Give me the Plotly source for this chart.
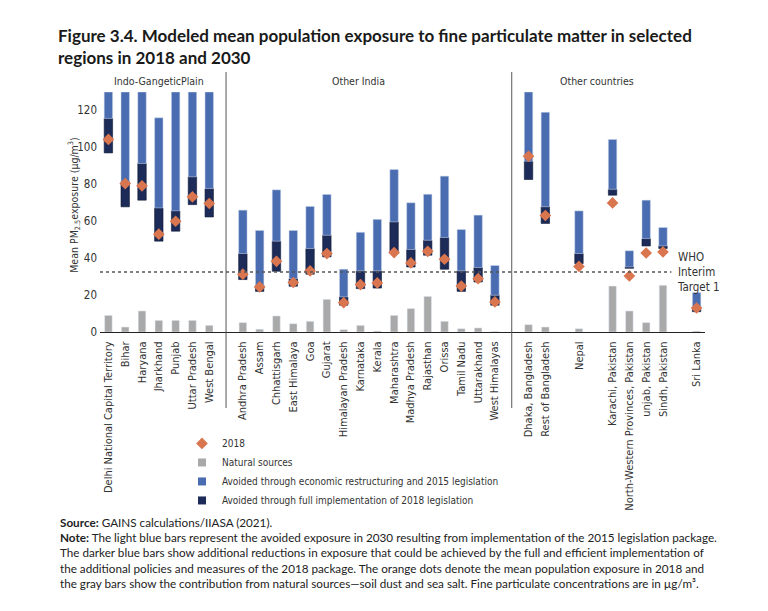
import plotly.graph_objects as go

# regions, in the order they appear on the axis
regions = ["Delhi National Capital Territory", "Bihar", "Haryana", "Jharkhand", "Punjab",
           "Uttar Pradesh", "West Bengal",
           "Andhra Pradesh", "Assam", "Chhattisgarh", "East Himalaya", "Goa", "Gujarat",
           "Himalayan Pradesh", "Karnataka", "Kerala", "Maharashtra", "Madhya Pradesh",
           "Rajasthan", "Orissa", "Tamil Nadu", "Uttarakhand", "West Himalayas",
           "Dhaka, Bangladesh", "Rest of Bangladesh", "Nepal", "Karachi, Pakistan",
           "North-Western Provinces, Pakistan", "unjab, Pakistan", "Sindh, Pakistan",
           "Sri Lanka"]

# 2030 exposure without further policy (top of light bar)
top_2030 = [130, 130, 130, 116, 130, 130, 130,
            66, 55, 77, 55, 68, 74.5, 34, 54, 61, 88, 70, 74.6, 84.4, 55.5, 63.3, 36,
            130, 119, 65.6, 104.3, 44, 71.4, 56.6, 21.3]
# 2030 exposure with 2015 legislation (top of dark bar)
after_2015 = [115.7, 81.5, 91.3, 67.2, 65.6, 84, 77.7,
              42.5, 25.3, 49.2, 28.9, 45.2, 52.4, 19, 33.1, 33.1, 59.6, 44.7, 49.7, 51.2, 33.1, 34.9, 19.9,
              92.5, 67.8, 42.5, 77.3, 35.2, 50.6, 46.6, 12.3]
# 2030 exposure with full 2018 package (bottom of dark bar)
after_2018 = [97, 67.8, 71.4, 49.2, 54.6, 69, 62.3,
              28.4, 22, 32.9, 24.8, 31.3, 40.7, 14.5, 23.5, 23.8, 43.5, 35.2, 41.6, 34, 22, 27.1, 14.5,
              82.6, 58.8, 37, 74.1, 34.5, 46.6, 45.2, 11]
exposure_2018 = [104.3, 80.4, 79.2, 53, 60, 73.2, 69.6,
                 31.3, 24.4, 38.3, 26.8, 33.1, 42.5, 15.9, 25.7, 26.6, 43, 37.4, 43.7, 39.4, 24.9, 28.9, 16.3,
                 95.2, 63.1, 35.5, 69.9, 30.4, 42.8, 43.4, 13]
natural = [9, 2.7, 11.4, 6.3, 6.3, 6.3, 3.6,
           5.1, 1.5, 8.7, 4.5, 5.8, 17.7, 1.3, 3.6, 0.5, 9, 12.7, 19.3, 5.8, 1.8, 2.2, 0.3,
           4, 2.7, 1.8, 24.9, 11.4, 5.1, 25.3, 0.5]

who_target = 32.5
groups = ["Indo-GangeticPlain", "Other India", "Other countries"]
legend_names = ["2018", "Natural sources",
                "Avoided through economic restructuring and 2015 legislation",
                "Avoided through full implementation of 2018 legislation"]

# empty slots inserted after these region indexes
gap_after = [6, 22, 24, 25, 29]
xpos = []
slot = 0
for i in range(len(regions)):
    xpos.append(slot)
    slot += 2 if i in gap_after else 1
n_slots = slot

LIGHT = "#4a6cb0"
DARK = "#1c2b57"
ORANGE = "#d9754f"
GRAY = "#a9a9a9"
NARROW = "Liberation Sans Narrow, Arial Narrow, DejaVu Sans Condensed, sans-serif"

fig = go.Figure()
fig.add_trace(go.Bar(x=xpos, y=natural, width=0.45, marker_color=GRAY, showlegend=False))
fig.add_trace(go.Bar(x=xpos, base=after_2018,
                     y=[a - b for a, b in zip(after_2015, after_2018)],
                     width=0.5, marker=dict(color=DARK, line=dict(color="#0e1836", width=0.6)),
                     showlegend=False))
fig.add_trace(go.Bar(x=xpos, base=after_2015,
                     y=[a - b for a, b in zip(top_2030, after_2015)],
                     width=0.5, marker=dict(color=LIGHT, line=dict(color="#c9d4ea", width=0.5)),
                     showlegend=False))
fig.add_trace(go.Scatter(x=xpos, y=exposure_2018, mode="markers",
                         marker=dict(symbol="diamond", size=9, color=ORANGE),
                         name=legend_names[0], legendrank=1))

# small square legend keys like the original
for name, col, rank in zip(legend_names[1:], [GRAY, LIGHT, DARK], [2, 3, 4]):
    fig.add_trace(go.Scatter(x=[None], y=[None], mode="markers", name=name, legendrank=rank,
                             marker=dict(symbol="square", size=8, color=col)))

# WHO interim target line
fig.add_shape(type="line", xref="x", yref="y", x0=-0.5, x1=33.5, y0=who_target, y1=who_target,
              line=dict(color="#555555", width=1.5, dash="3px,3px"))
fig.add_annotation(x=33.7, y=who_target, xref="x", yref="y", text="WHO<br>Interim<br>Target 1",
                   showarrow=False, xanchor="left", yanchor="middle", align="left",
                   font=dict(family=NARROW, size=11.5, color="#333333"))

# group separators and labels
seps = [xpos[i] + 1 for i in (6, 22)]
for s in seps:
    fig.add_shape(type="line", xref="x", yref="paper", x0=s, x1=s, y0=-0.317, y1=1.083,
                  line=dict(color="#555555", width=1))
group_x = [3, 14.9, 29.1]
for g, gx in zip(groups, group_x):
    fig.add_annotation(x=gx, y=1.044, xref="x", yref="paper", text=g, showarrow=False,
                       xanchor="center", yanchor="middle",
                       font=dict(family=NARROW, size=10.5, color="#333333"))

# y axis title
fig.add_annotation(x=-0.043, y=0.53, xref="paper", yref="paper", textangle=-90,
                   xanchor="center", yanchor="middle",
                   text="Mean PM<sub>2.5</sub>exposure (µg/m<sup>3</sup>)", showarrow=False,
                   font=dict(family=NARROW, size=10.5, color="#333333"))

note = ("<b>Source:</b> GAINS calculations/IIASA (2021).<br>"
        "<b>Note:</b> The light blue bars represent the avoided exposure in 2030 resulting from implementation of the 2015 legislation package.<br>"
        "The darker blue bars show additional reductions in exposure that could be achieved by the full and efficient implementation of<br>"
        "the additional policies and measures of the 2018 package. The orange dots denote the mean population exposure in 2018 and<br>"
        "the gray bars show the contribution from natural sources—soil dust and sea salt. Fine particulate concentrations are in µg/m³.")
fig.add_annotation(x=-0.0687, y=-0.755, xref="paper", yref="paper", text=note, showarrow=False,
                   xanchor="left", yanchor="top", align="left",
                   font=dict(family="Lato, sans-serif", size=11.7, color="#222222"))

# page body has an 8px margin, so the figure is 8px smaller and everything sits 8px up/left
fig.update_layout(
    width=760, height=603,
    margin=dict(l=92, r=63, t=84, b=279),
    paper_bgcolor="white", plot_bgcolor="white",
    barmode="overlay",
    title=dict(text="Figure 3.4. Modeled mean population exposure to fine particulate matter in selected<br>regions in 2018 and 2030",
               x=50 / 760, xanchor="left", xref="container", y=0.944, yanchor="top",
               font=dict(family="Lato, sans-serif", size=17, color="#1a1a1a", weight="bold")),
    xaxis=dict(range=[-0.5, n_slots - 0.5], tickvals=xpos, ticktext=regions, tickangle=-90,
               showline=True, linecolor="#222222", linewidth=1, showgrid=False, zeroline=False,
               ticks="", ticklabelstandoff=4,
               tickfont=dict(family=NARROW, size=11, color="#333333")),
    yaxis=dict(range=[0, 130], tickvals=list(range(0, 121, 20)), showgrid=False, zeroline=False,
               showline=False, ticks="", ticklabelstandoff=2,
               tickfont=dict(family=NARROW, size=11.5, color="#333333")),
    legend=dict(x=0.1355, y=-0.404, xanchor="left", yanchor="top", traceorder="normal",
                bgcolor="rgba(0,0,0,0)", tracegroupgap=0, itemwidth=30,
                font=dict(family=NARROW, size=10, color="#333333")),
    showlegend=True,
)

fig.write_html("out.html")
